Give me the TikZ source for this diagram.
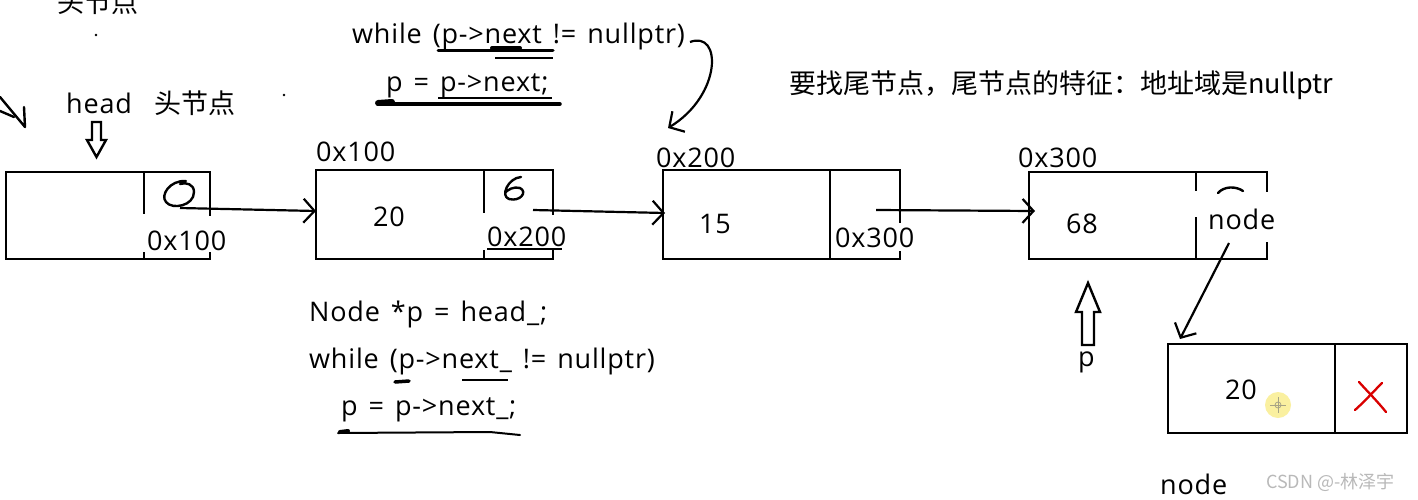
\documentclass[tikz,border=0pt]{standalone}
\usepackage{fontspec}
\setmainfont{Open Sans}[LetterSpace=3,WordSpace=1.4]
\newfontfamily\cjk{Noto Sans CJK SC}
\usetikzlibrary{arrows.meta}
\definecolor{cursor}{RGB}{250,240,160}
\begin{document}
\begin{tikzpicture}[x=1pt,y=-1pt,
  box/.style={line width=2.6pt, line cap=rect},
  txt/.style={font=\fontsize{27}{30}\selectfont, inner sep=0pt, anchor=base west},
  ctxt/.style={font=\cjk\fontsize{27}{30}\selectfont, inner sep=0pt, anchor=base west},
  ptr/.style={line width=2.2pt, -{Straight Barb[length=11pt,width=24pt,line width=2.2pt]}},
  pen/.style={line width=2.4pt, line cap=round, line join=round},
  hollow/.style={line width=2.4pt, line join=miter}]
\fill[white] (0,0) rectangle (1418,499);
\useasboundingbox (0,0) rectangle (1418,499);

% ---------- top-left marks ----------
\node[ctxt] (topcn) at (57,12) {头节点};
\fill (96,35) circle (1.3);
\fill (284,95) circle (1.3);
\draw[pen] (0,97) -- (25,127) -- (24,107);
\draw[pen] (0,111) -- (14,117);

\node[txt] (head) at (66,113) {head};
\node[ctxt] (headcn) at (154,113) {头节点};
\draw[hollow] (92,122) -- (101,122) -- (101,140) -- (106,140) -- (96.5,157) -- (87,140) -- (92,140) -- cycle;

% ---------- box 1 ----------
\draw[box] (144,213) -- (144,172) -- (6,172) -- (6,259) -- (210,259) -- (210,253);
\draw[box] (144,172) -- (210,172) -- (210,215);
\draw[box] (144,253) -- (144,259);
\draw[pen] (186,181) .. controls (170,180) and (160,195) .. (166,202)
  .. controls (172,210) and (194,206) .. (194,192) .. controls (194,184) and (186,182) .. (180,184);
\node[txt] (a1) at (147,250) {0x100};
\coordinate (b1out) at (180,208);

% ---------- box 2 ----------
\node[txt] (lab2) at (316,161) {0x100};
\draw[box] (484,212) -- (484,170) -- (316,170) -- (316,259) -- (553,259) -- (553,251);
\draw[box] (484,170) -- (553,170) -- (553,214);
\draw[box] (484,251) -- (484,259);
\coordinate (b2in) at (316,211);
\node[txt] (v2) at (373,226) {20};
\draw[pen] (521,177) .. controls (508,178) and (500,196) .. (509,199)
  .. controls (520,202) and (528,192) .. (520,188) .. controls (514,186) and (507,190) .. (505,193);
\node[txt] (a2) at (487,246) {0x200};
\draw[line width=1.3pt] (487,249) -- (562,249);
\coordinate (b2out) at (533,210);

% ---------- box 3 ----------
\node[txt] (lab3) at (656,167) {0x200};
\draw[box] (900,222) -- (900,170) -- (663,170) -- (663,259) -- (900,259) -- (900,252);
\draw[box] (830,170) -- (830,259);
\coordinate (b3in) at (665,213);
\node[txt] (v3) at (699,233) {15};
\node[txt] (a3) at (835,247) {0x300};
\coordinate (b3out) at (876,210);

% ---------- box 4 ----------
\node[txt] (lab4) at (1018,167) {0x300};
\draw[box] (1196,190) -- (1196,172) -- (1029,172) -- (1029,259) -- (1267,259) -- (1267,243);
\draw[box] (1196,172) -- (1267,172) -- (1267,191);
\draw[box] (1196,218) -- (1196,259);
\draw[pen] (1218,193) .. controls (1224,186) and (1236,186) .. (1243,191);
\coordinate (b4in) at (1035,211);
\node[txt] (v4) at (1066,233) {68};
\node[txt] (nd) at (1208,229) {node};
\coordinate (ndout) at (1229,243);

% p arrow
\draw[hollow] (1082,345) -- (1082,312) -- (1076,312) -- (1088,283) -- (1100,312) -- (1094,312) -- (1094,345) -- cycle;
\node[txt] (plab) at (1078,366) {p};

% ---------- box 5 ----------
\draw[box] (1168,344) rectangle (1407,433);
\draw[box] (1335,344) -- (1335,433);
\coordinate (b5in) at (1180,339);
\node[txt] (v5) at (1225,399) {20};
\fill[cursor] (1278,405) circle (13);
\draw[gray!80!yellow, line width=0.8pt] (1278,397) -- (1278,413) (1270,405) -- (1286,405);
\draw[gray!80!yellow, line width=0.8pt] (1278,405) circle (3);
\draw[red!85!black, line width=2.3pt, line cap=round] (1359,382) .. controls (1368,392) and (1378,402) .. (1386,412);
\draw[red!85!black, line width=2.3pt, line cap=round] (1382,383) .. controls (1372,393) and (1364,402) .. (1355,410);
\node[txt] (nd2) at (1160,494) {node};
\node[font=\cjk\fontsize{18}{20}\selectfont, text=gray!55, inner sep=0pt, anchor=base west] (wm) at (1266,488) {CSDN @-林泽宇};

% ---------- connectors ----------
\draw[ptr] (b1out) -- (b2in);
\draw[ptr] (b2out) -- (b3in);
\draw[ptr] (b3out) -- (b4in);
\draw[ptr] (ndout) -- (b5in);

% ---------- top code ----------
\node[txt] (w1) at (352,43) {while (p->next != nullptr)};
\node[txt] (w2) at (386,91) {p = p->next;};
\draw[line width=3pt, line cap=round] (438,50) -- (553,50);
\draw[line width=4pt, line cap=round] (492,48) -- (520,48);
\draw[line width=1.6pt] (495,58) -- (553,58);
\draw[line width=2pt] (438,98) -- (552,98);
\draw[line width=3.5pt, line cap=round] (378,104) -- (560,104);
\draw[line width=6pt, line cap=round] (378,103) -- (392,102);
\coordinate (wend) at (690,42);
\coordinate (wtgt) at (668,128);
\draw[ptr] (wend) .. controls (722,30) and (722,95) .. (wtgt);

% ---------- right note ----------
\node[ctxt] (note) at (789,93) {要找尾节点，尾节点的特征：地址域是nullptr};

% ---------- lower code ----------
\node[txt] (c1) at (309,321) {Node *p = head\_;};
\node[txt] (c2) at (309,368) {while (p->next\_ != nullptr)};
\node[txt] (c3) at (341,415) {p = p->next\_;};
\draw[line width=3.5pt, line cap=round] (395,382) -- (409,381);
\draw[line width=2pt] (462,380) -- (508,380);
\draw[line width=2pt, line cap=round] (338,433) -- (490,432) -- (520,435);
\draw[line width=4pt, line cap=round] (340,432) -- (348,431);
\end{tikzpicture}
\end{document}
